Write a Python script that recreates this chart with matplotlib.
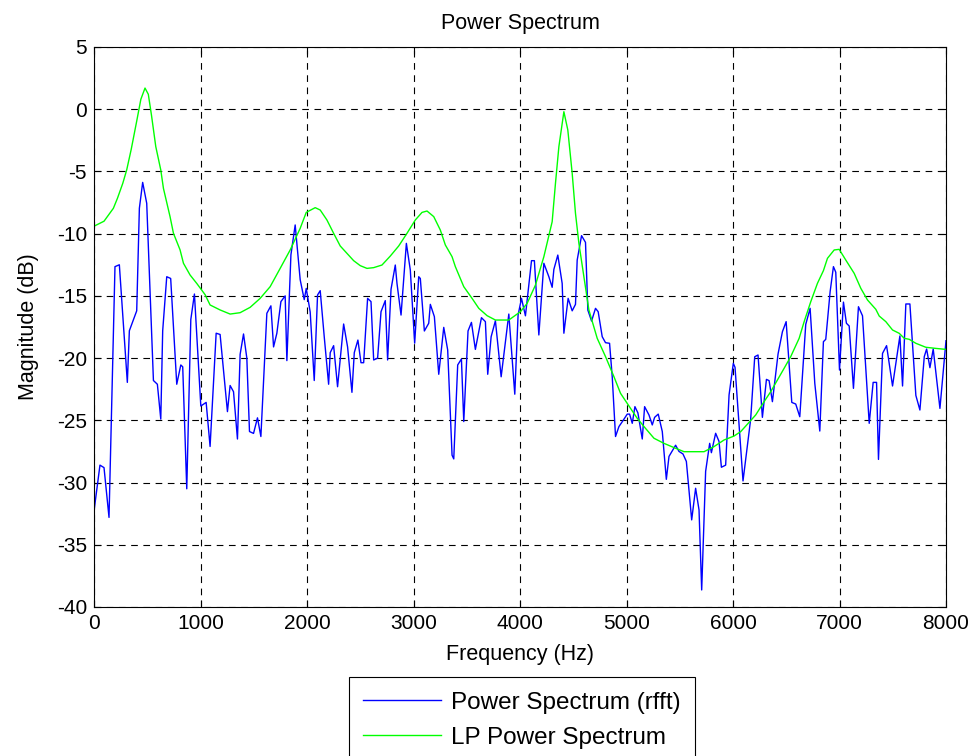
import numpy as np
import matplotlib.pyplot as plt

plt.rcParams['font.family'] = ['Liberation Sans', 'DejaVu Sans']
plt.rcParams['axes.unicode_minus'] = False

# blue: power spectrum from rfft (vertices)
f_rfft = [0, 56, 94, 141, 197, 238, 313, 332, 401, 426, 457, 495, 558, 595, 627, 645, 683, 720,
          777, 815, 833, 871, 909, 943, 1003, 1053, 1090, 1147, 1184, 1253, 1278, 1310, 1347, 1372,
          1404, 1435, 1460, 1498, 1535, 1567, 1623, 1661, 1686, 1717, 1755, 1795, 1811, 1849, 1889,
          1936, 1974, 1993, 2030, 2068, 2099, 2124, 2162, 2203, 2218, 2250, 2287, 2344, 2381, 2422,
          2444, 2478, 2507, 2532, 2569, 2601, 2626, 2663, 2695, 2735, 2757, 2789, 2829, 2845, 2883,
          2933, 2970, 3011, 3049, 3064, 3102, 3143, 3158, 3196, 3237, 3284, 3321, 3362, 3378, 3415,
          3450, 3472, 3512, 3544, 3581, 3638, 3675, 3697, 3729, 3769, 3823, 3895, 3951, 3982, 4014,
          4051, 4108, 4135, 4177, 4224, 4271, 4302, 4318, 4355, 4396, 4412, 4452, 4490, 4521, 4537,
          4578, 4615, 4637, 4672, 4709, 4734, 4772, 4803, 4841, 4866, 4897, 4929, 4969, 5007, 5029,
          5054, 5079, 5107, 5148, 5170, 5211, 5242, 5264, 5298, 5336, 5374, 5399, 5461, 5493, 5530,
          5562, 5612, 5649, 5681, 5706, 5743, 5781, 5797, 5837, 5869, 5891, 5931, 5963, 6003, 6019,
          6094, 6166, 6204, 6235, 6276, 6314, 6339, 6370, 6423, 6464, 6499, 6552, 6589, 6627, 6683,
          6724, 6768, 6815, 6849, 6871, 6912, 6943, 6965, 7000, 7037, 7065, 7091, 7131, 7178, 7216,
          7279, 7316, 7348, 7366, 7404, 7442, 7498, 7567, 7592, 7623, 7661, 7717, 7755, 7796, 7818,
          7849, 7880, 7943, 8000]
p_rfft = [-32.3, -28.6, -28.8, -32.8, -12.65, -12.5, -21.95, -17.8, -16.2, -7.96, -5.88, -7.56,
          -21.8, -22.1, -24.9, -17.8, -13.46, -13.6, -22.1, -20.55, -20.7, -30.5, -16.9, -14.85,
          -23.85, -23.56, -27.1, -18.0, -18.1, -24.3, -22.2, -22.7, -26.5, -19.7, -18.06, -20.0,
          -25.9, -26.05, -24.8, -26.3, -16.4, -15.8, -19.1, -18.0, -15.46, -15.0, -20.2, -11.7,
          -9.3, -13.7, -15.3, -14.4, -16.3, -21.8, -14.93, -14.58, -18.3, -22.1, -19.56, -19.0,
          -22.3, -17.26, -19.1, -22.75, -19.56, -18.55, -20.37, -20.37, -15.2, -15.46, -20.15,
          -20.0, -16.27, -15.38, -20.15, -14.47, -12.52, -14.0, -16.54, -10.78, -12.92, -18.8,
          -13.46, -13.6, -17.82, -17.2, -15.68, -16.67, -21.3, -17.53, -19.35, -27.8, -28.1,
          -20.55, -20.07, -25.1, -17.82, -17.13, -19.3, -16.75, -17.07, -21.3, -18.28, -17.0,
          -21.5, -16.46, -22.9, -16.54, -15.2, -16.6, -12.17, -12.17, -18.14, -12.38, -13.46,
          -14.31, -12.87, -11.72, -14.0, -18.0, -15.2, -16.2, -15.68, -12.12, -10.16, -10.7,
          -16.14, -17.02, -16.0, -16.27, -18.28, -18.76, -18.81, -21.5, -26.3, -25.5, -25.0,
          -24.5, -24.5, -25.24, -23.9, -24.4, -26.5, -23.9, -24.57, -25.37, -24.76, -24.5,
          -25.9, -29.74, -27.9, -27.0, -27.5, -27.7, -28.3, -33.0, -30.46, -32.2, -38.63,
          -29.1, -26.85, -27.6, -26.04, -26.7, -28.77, -28.6, -22.96, -20.42, -20.74, -29.87,
          -24.9, -19.89, -19.75, -24.76, -21.71, -21.81, -23.5, -19.67, -17.88, -17.07, -23.56,
          -23.69, -24.71, -17.29, -16.0, -22.03, -25.86, -18.68, -18.49, -14.66, -12.65, -13.1,
          -20.96, -15.5, -17.2, -17.42, -22.43, -15.87, -16.6, -25.24, -21.95, -21.95, -28.14,
          -19.62, -19.0, -22.24, -18.22, -22.24, -15.65, -15.65, -23.0, -24.17, -19.88, -19.27,
          -20.77, -19.27, -24.04, -18.6]

# green: LP power spectrum
f_lp = [0, 94, 182, 220, 270, 307, 350, 400, 440, 479, 510, 540, 580, 627, 652, 714, 746, 808,
        840, 902, 965, 1043, 1090, 1184, 1278, 1372, 1466, 1560, 1654, 1748, 1842, 1936, 1993,
        2077, 2124, 2187, 2250, 2312, 2375, 2438, 2500, 2563, 2626, 2704, 2782, 2861, 2939, 3017,
        3080, 3127, 3190, 3252, 3299, 3362, 3393, 3472, 3550, 3613, 3691, 3769, 3895, 4004, 4067,
        4145, 4224, 4302, 4333, 4365, 4412, 4449, 4490, 4521, 4553, 4600, 4647, 4725, 4803, 4882,
        4944, 5038, 5101, 5179, 5258, 5352, 5446, 5540, 5728, 5822, 5916, 6010, 6072, 6129, 6213,
        6292, 6354, 6417, 6480, 6542, 6621, 6668, 6730, 6793, 6849, 6887, 6950, 6997, 7059, 7138,
        7200, 7263, 7341, 7373, 7435, 7498, 7561, 7608, 7655, 7717, 7811, 7905, 8000]
p_lp = [-9.4, -9.0, -7.96, -7.16, -5.96, -4.88, -3.2, -1.0, 0.8, 1.7, 1.2, -0.5, -3.0, -4.88,
        -6.36, -8.63, -9.97, -11.3, -12.38, -13.32, -14.0, -14.9, -15.73, -16.13, -16.46, -16.35,
        -15.92, -15.2, -14.26, -12.79, -11.31, -9.57, -8.29, -7.91, -8.1, -8.9, -9.97, -10.99,
        -11.58, -12.17, -12.57, -12.79, -12.73, -12.52, -11.8, -10.99, -9.97, -8.9, -8.29, -8.18,
        -8.63, -9.71, -10.91, -11.85, -12.65, -14.26, -15.2, -16.0, -16.59, -16.94, -16.94,
        -16.27, -15.6, -14.13, -11.85, -9.04, -5.96, -3.01, -0.2, -1.67, -5.15, -8.37, -10.78,
        -13.46, -16.14, -18.41, -19.88, -21.49, -22.83, -24.04, -24.84, -25.65, -26.44, -26.85,
        -27.19, -27.52, -27.52, -27.11, -26.58, -26.26, -25.91, -25.37, -24.57, -23.5, -22.7,
        -21.76, -20.82, -19.88, -18.41, -17.07, -15.47, -13.99, -12.97, -11.98, -11.31, -11.26,
        -12.12, -13.19, -14.39, -15.33, -16.08, -16.62, -17.07, -17.74, -18.01, -18.41, -18.49,
        -18.81, -19.13, -19.22, -19.3]

fig = plt.figure(figsize=(9.76, 7.56), dpi=100)
ax = fig.add_axes([94/976, 1-607/756, 852/976, 560/756])
ax.plot(f_rfft, p_rfft, color=(0, 0, 1), lw=1.0, label='Power Spectrum (rfft)')
ax.plot(f_lp, p_lp, color=(0, 1, 0), lw=1.0, label='LP Power Spectrum')
ax.set_xlim(0, 8000)
ax.set_ylim(-40, 5)
ax.set_xticks(np.arange(0, 8001, 1000))
ax.set_yticks(np.arange(-40, 6, 5))
ax.grid(True, color='k', linestyle=(0, (6, 5)), lw=0.8)
ax.tick_params(direction='in', top=True, right=True, labelsize=15, length=5, pad=5)
for s in ax.spines.values():
    s.set_linewidth(0.8)
ax.set_title('Power Spectrum', fontsize=15.5, pad=13)
ax.set_xlabel('Frequency (Hz)', fontsize=15.5, labelpad=8)
ax.set_ylabel('Magnitude (dB)', fontsize=15.5, labelpad=13)
leg = fig.legend(loc='upper center', bbox_to_anchor=(522/976, 1-677/756),
                 fontsize=17.5, fancybox=False, edgecolor='k', framealpha=1,
                 borderaxespad=0, handlelength=3.2, handletextpad=0.4,
                 borderpad=0.6, labelspacing=0.55)
leg.get_frame().set_linewidth(0.8)
fig.savefig('out.png', dpi=100)
